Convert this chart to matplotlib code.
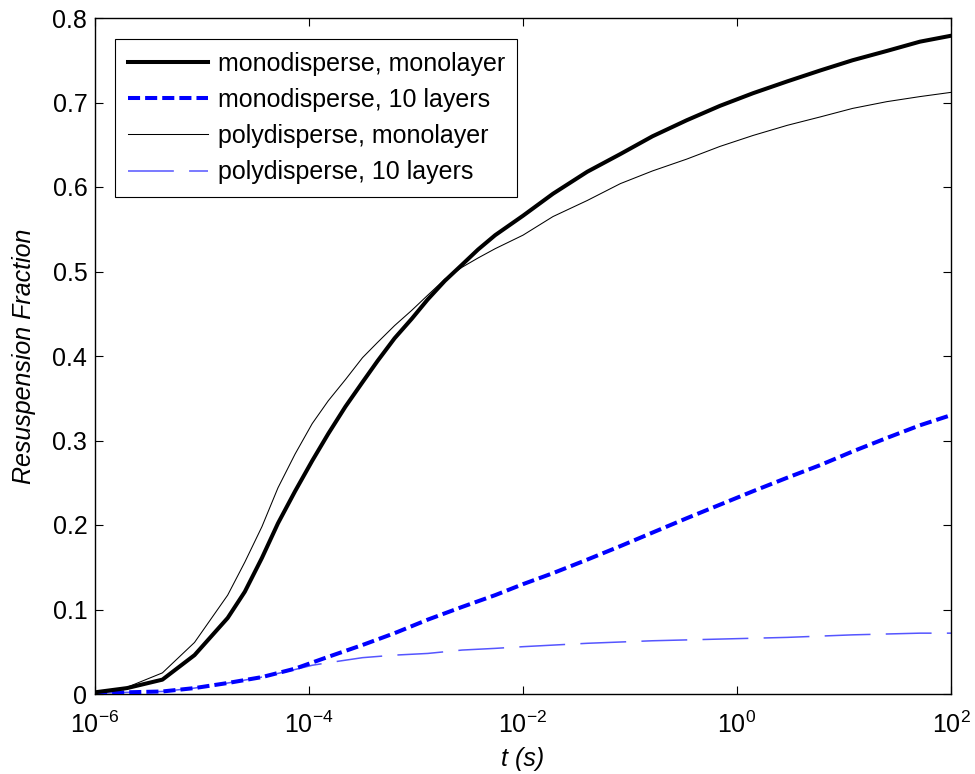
import numpy as np
import matplotlib
matplotlib.use("Agg")
import matplotlib.pyplot as plt
from matplotlib.ticker import FixedLocator, NullLocator

# ─────────────────────────────────────────────
# Data (x given as log10 of t in seconds)
# ─────────────────────────────────────────────
mono_mono_logt = [-6.0, -5.7, -5.37, -5.07, -4.76, -4.6, -4.44, -4.29, -4.13,
                  -3.97, -3.82, -3.66, -3.5, -3.36, -3.2, -3.04, -2.89, -2.73,
                  -2.57, -2.42, -2.26, -2.0, -1.72, -1.4, -1.09, -0.79, -0.47,
                  -0.16, 0.15, 0.47, 0.78, 1.08, 1.4, 1.71, 2.0]
mono_mono_val = [0.002, 0.007, 0.017, 0.046, 0.090, 0.121, 0.161, 0.202, 0.240,
                 0.276, 0.308, 0.340, 0.369, 0.394, 0.421, 0.444, 0.467, 0.489,
                 0.508, 0.526, 0.543, 0.566, 0.592, 0.618, 0.639, 0.660, 0.679,
                 0.696, 0.711, 0.725, 0.738, 0.750, 0.761, 0.772, 0.779]

poly_mono_logt = [-5.9, -5.7, -5.37, -5.07, -4.76, -4.6, -4.44, -4.29, -4.13,
                  -3.97, -3.82, -3.66, -3.5, -3.36, -3.2, -3.04, -2.89, -2.73,
                  -2.57, -2.42, -2.26, -2.0, -1.72, -1.4, -1.09, -0.79, -0.47,
                  -0.16, 0.15, 0.47, 0.78, 1.08, 1.4, 1.71, 2.0]
poly_mono_val = [0.002, 0.008, 0.025, 0.061, 0.117, 0.156, 0.198, 0.244, 0.284,
                 0.320, 0.347, 0.372, 0.398, 0.416, 0.436, 0.454, 0.472, 0.491,
                 0.505, 0.516, 0.527, 0.543, 0.565, 0.584, 0.604, 0.619, 0.633,
                 0.648, 0.661, 0.673, 0.683, 0.693, 0.701, 0.707, 0.712]

mono_10_logt = [-6.0, -5.7, -5.37, -5.07, -4.76, -4.44, -4.13, -3.82, -3.5,
                -3.2, -2.89, -2.57, -2.26, -2.0, -1.72, -1.4, -1.09, -0.79,
                -0.47, -0.16, 0.15, 0.47, 0.78, 1.08, 1.4, 1.71, 2.0]
mono_10_val = [0.001, 0.002, 0.003, 0.007, 0.013, 0.020, 0.030, 0.044, 0.058,
               0.072, 0.088, 0.103, 0.117, 0.130, 0.143, 0.159, 0.175, 0.191,
               0.208, 0.224, 0.240, 0.256, 0.271, 0.287, 0.303, 0.318, 0.330]

poly_10_logt = [-6.0, -5.37, -5.07, -4.76, -4.44, -4.13, -3.97, -3.82, -3.5,
                -3.2, -2.89, -2.57, -2.26, -2.0, -1.4, -0.79, -0.16, 0.47,
                1.08, 1.71, 2.0]
poly_10_val = [0.001, 0.003, 0.007, 0.013, 0.020, 0.029, 0.034, 0.037, 0.043,
               0.046, 0.048, 0.052, 0.054, 0.056, 0.060, 0.063, 0.065, 0.067,
               0.070, 0.072, 0.072]

labels = ["monodisperse, monolayer", "monodisperse, 10 layers",
          "polydisperse, monolayer", "polydisperse, 10 layers"]

x_ticks = [1e-6, 1e-4, 1e-2, 1e0, 1e2]
x_tick_labels = [r"$10^{-6}$", r"$10^{-4}$", r"$10^{-2}$", r"$10^{0}$", r"$10^{2}$"]
y_ticks = [0, 0.1, 0.2, 0.3, 0.4, 0.5, 0.6, 0.7, 0.8]
y_tick_labels = ["0", "0.1", "0.2", "0.3", "0.4", "0.5", "0.6", "0.7", "0.8"]

# ─────────────────────────────────────────────
# Style (MATLAB-like)
# ─────────────────────────────────────────────
plt.rcParams["font.family"] = ["Liberation Sans", "DejaVu Sans"]
plt.rcParams["mathtext.fontset"] = "custom"
plt.rcParams["mathtext.rm"] = "Liberation Sans"
plt.rcParams["mathtext.it"] = "Liberation Sans:italic"
plt.rcParams["mathtext.default"] = "regular"
plt.rcParams["font.size"] = 18

W, H = 975, 774
fig = plt.figure(figsize=(W / 100, H / 100), dpi=100)
ax = fig.add_axes([95 / W, 1 - 694 / H, (951 - 95) / W, (694 - 18) / H])

ax.plot(10.0 ** np.array(mono_mono_logt), mono_mono_val, color="black",
        lw=2.9, label=labels[0], zorder=4)
ax.plot(10.0 ** np.array(mono_10_logt), mono_10_val, color="#0000ff",
        lw=2.9, linestyle=(0, (3.0, 1.25)), label=labels[1], zorder=3)
ax.plot(10.0 ** np.array(poly_mono_logt), poly_mono_val, color="black",
        lw=0.75, label=labels[2], zorder=5)
ax.plot(10.0 ** np.array(poly_10_logt), poly_10_val, color="#5555ff",
        lw=1.1, linestyle=(0, (30, 10)), label=labels[3], zorder=2)

ax.set_xscale("log")
ax.set_xlim(1e-6, 1e2)
ax.set_ylim(0, 0.8)
ax.xaxis.set_major_locator(FixedLocator(x_ticks))
ax.xaxis.set_minor_locator(NullLocator())
ax.set_xticklabels(x_tick_labels)
ax.set_yticks(y_ticks)
ax.set_yticklabels(y_tick_labels)

ax.tick_params(axis="both", which="major", direction="in", length=6, width=0.8,
               top=True, right=True, labelsize=18)
ax.tick_params(axis="x", pad=12.5)
ax.tick_params(axis="y", pad=5.5)
for s in ax.spines.values():
    s.set_linewidth(1.0)

ax.set_xlabel("t (s)", fontstyle="italic", fontsize=18, labelpad=7)
ax.set_ylabel("Resuspension Fraction", fontstyle="italic", fontsize=18, labelpad=12)

leg = ax.legend(loc="upper left", bbox_to_anchor=(115 / W, 1 - 39 / H),
                bbox_transform=fig.transFigure, borderaxespad=0,
                fontsize=18, frameon=True, fancybox=False, framealpha=1,
                edgecolor="black", borderpad=0.5, labelspacing=0.49,
                handlelength=3.2, handletextpad=0.4)
leg.get_frame().set_linewidth(0.8)

plt.savefig("out.png", dpi=100)
